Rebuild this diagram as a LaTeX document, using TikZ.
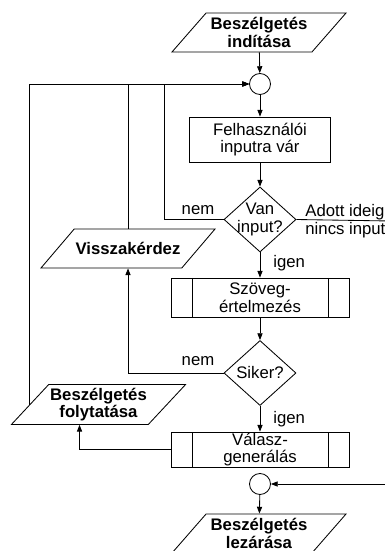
\documentclass[tikz,border=0pt]{standalone}
\usepackage{fontspec}
\setmainfont{Liberation Sans}
\usetikzlibrary{shapes.geometric,arrows.meta}

\begin{document}
\begin{tikzpicture}[
x=0.025cm, y=-0.025cm,
line width=0.6pt,
>={Triangle[length=1.7mm,width=1.3mm]},
every node/.style={font=\fontsize{11.9}{12.6}\selectfont},
iobox/.style={trapezium, trapezium left angle=47, trapezium right angle=133, trapezium stretches body, draw=black, minimum width=43.5mm, minimum height=9.75mm, inner xsep=0pt, inner ysep=0.8mm, align=center, font=\fontsize{11.9}{12.6}\selectfont\bfseries},
procbox/.style={rectangle, draw=black, minimum width=35.25mm, minimum height=11.25mm, inner ysep=0pt, align=center},
subproc/.style={rectangle, draw=black, minimum width=44.5mm, inner ysep=0pt, align=center,
  path picture={\draw ([xshift=5.25mm]path picture bounding box.north west) -- ([xshift=5.25mm]path picture bounding box.south west)
  ([xshift=-5.25mm]path picture bounding box.north east) -- ([xshift=-5.25mm]path picture bounding box.south east);}},
decision/.style={diamond, draw=black, minimum width=18mm, minimum height=16.25mm, inner sep=-3mm, align=center},
joint/.style={circle, draw=black, minimum size=5.25mm, inner sep=0pt},
lbl/.style={inner sep=0pt, align=left},
]
\useasboundingbox (0,0) rectangle (384,551);
%Nodes
\node[iobox](start) at(259, 32.5) {Beszélgetés\\indítása};
\node[joint](c1) at(260, 84) {};
\node[procbox](wait) at(260, 139.5) {Felhasználói\\inputra vár};
\node[decision](van) at(260, 219.5) {Van\\input?};
\node[iobox, inner ysep=2.9mm](vissza) at(128, 248.5) {Visszakérdez};
\node[subproc, minimum height=9.75mm](szoveg) at(260, 297.5) {Szöveg-\\értelmezés};
\node[decision](siker) at(260, 373) {Siker?};
\node[iobox](folyt) at(98.5, 404.5) {Beszélgetés\\folytatása};
\node[subproc, minimum height=8.75mm](valasz) at(260, 449.5) {Válasz-\\generálás};
\node[joint](c2) at(260, 484) {};
\node[iobox](end) at(259, 533.5) {Beszélgetés\\lezárása};
%Labels
\node[lbl](nem1) at(198, 210) {nem};
\node[lbl, anchor=west](adott) at(305, 221) {Adott ideig\\nincs input};
\node[lbl, anchor=west](igen1) at(273, 263) {igen};
\node[lbl](nem2) at(198, 361) {nem};
\node[lbl, anchor=west](igen2) at(273, 419) {igen};
%Free ends
\coordinate (loopA) at(164, 84);
\coordinate (tout) at(390, 221);
\coordinate (ret) at(390, 484);
%Lines
\draw[->] (start) -- (c1);
\draw[->] (c1) -- (wait);
\draw[->] (wait) -- (van);
\draw[->] (van.west) -| (loopA) -- (c1);
\draw (van.east) -- (tout);
\draw[->] (van) -- (szoveg);
\draw[->] (szoveg) -- (siker);
\draw[->] (siker.west) -| (vissza);
\draw[->] (vissza) |- (c1);
\draw[->] (siker) -- (valasz);
\draw[->] (valasz.west) -| (folyt.bottom side);
\draw[->] (folyt.left side) |- (c1);
\draw[->] (ret) -- (c2);
\draw[->] (c2) -- (end);
\end{tikzpicture}
\end{document}
